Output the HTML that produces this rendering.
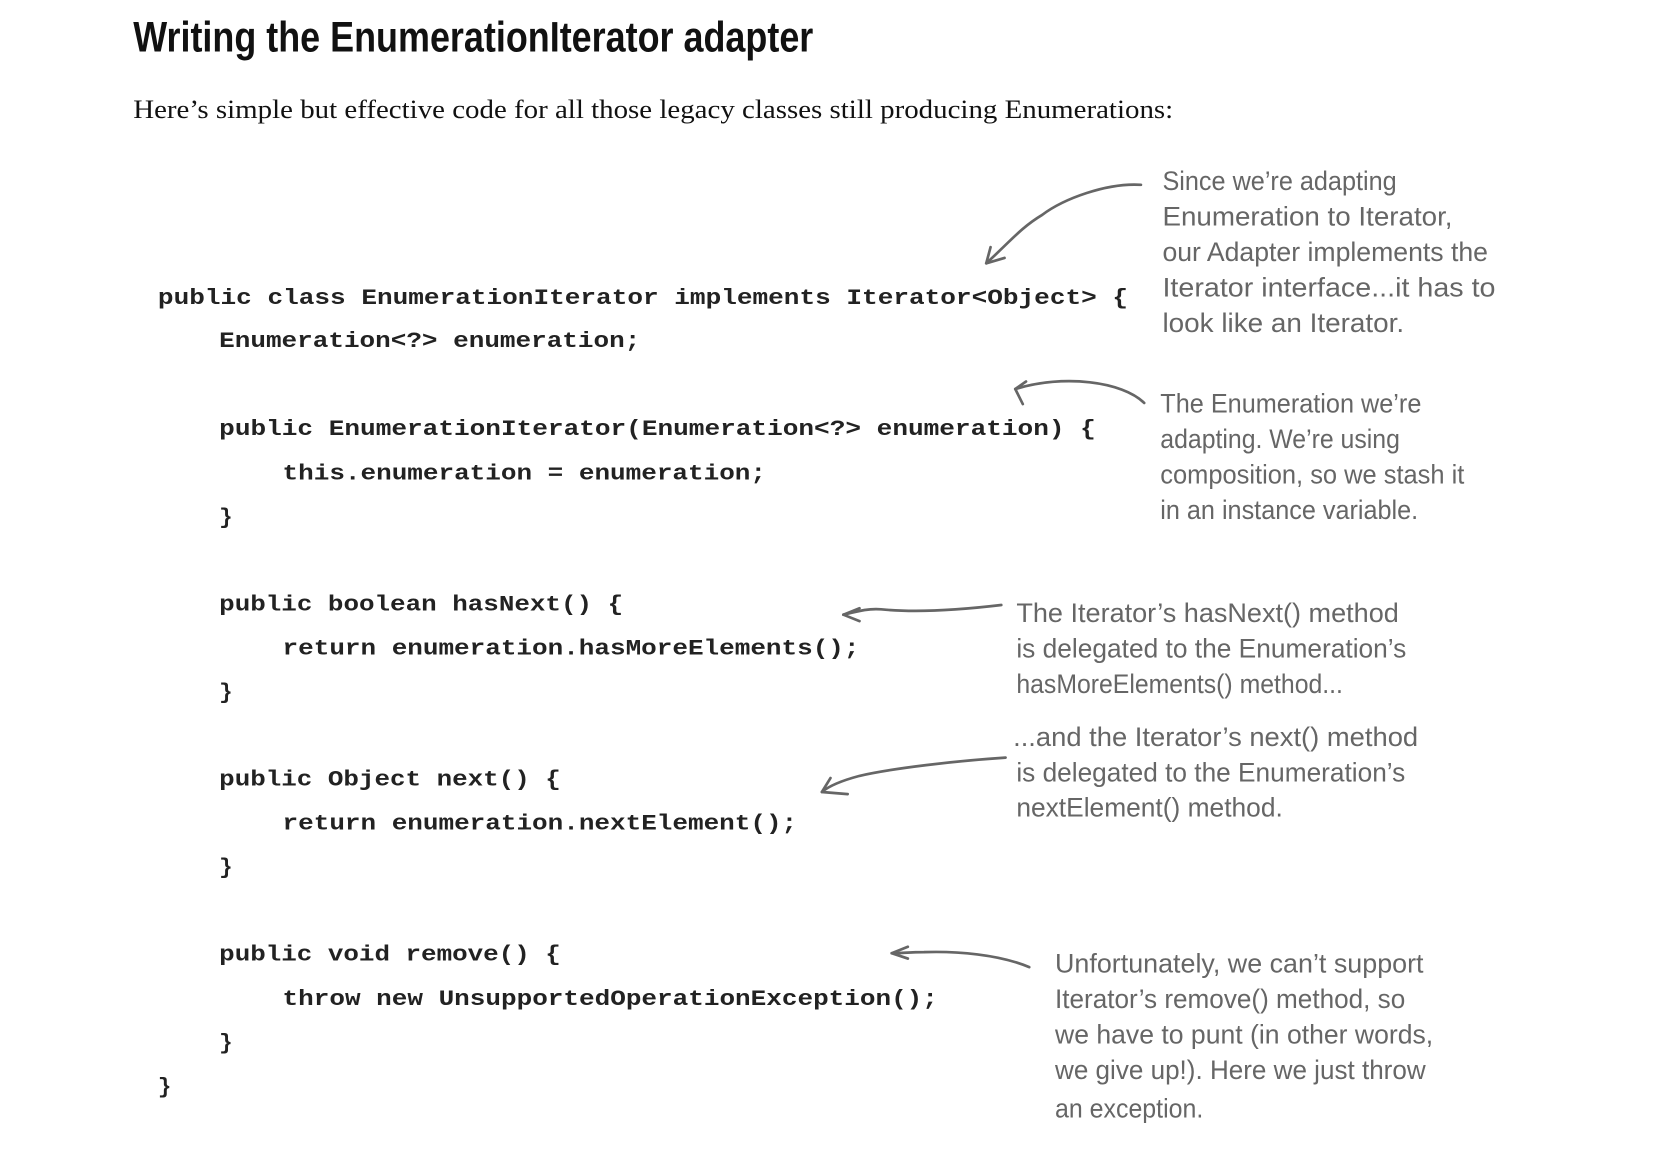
<!DOCTYPE html>
<html><head><meta charset="utf-8"><style>
html,body{margin:0;padding:0;background:#fff;}
svg{display:block;}
.code{font-family:"Liberation Mono",monospace;font-weight:bold;font-size:21px;fill:#222;}
.ann{font-family:"Liberation Sans Narrow","Liberation Sans",sans-serif;font-size:25px;fill:#666;}
</style></head><body>
<svg width="1676" height="1152" viewBox="0 0 1560 1072" preserveAspectRatio="none" xmlns="http://www.w3.org/2000/svg">
<text x="124" y="48" textLength="633" lengthAdjust="spacingAndGlyphs" style="font-family:'Liberation Sans',sans-serif;font-weight:bold;font-size:40px;fill:#111;">Writing the EnumerationIterator adapter</text>
<text x="124" y="110" textLength="968" lengthAdjust="spacingAndGlyphs" style="font-family:'Liberation Serif',serif;font-size:25px;fill:#111;">Here’s simple but effective code for all those legacy classes still producing Enumerations:</text>

<g class="code">
<text x="147" y="283" textLength="903" lengthAdjust="spacingAndGlyphs">public class EnumerationIterator implements Iterator&lt;Object&gt; {</text>
<text x="204" y="323" textLength="392" lengthAdjust="spacingAndGlyphs">Enumeration&lt;?&gt; enumeration;</text>
<text x="204" y="405" textLength="816" lengthAdjust="spacingAndGlyphs">public EnumerationIterator(Enumeration&lt;?&gt; enumeration) {</text>
<text x="263" y="446" textLength="450" lengthAdjust="spacingAndGlyphs">this.enumeration = enumeration;</text>
<text x="204" y="487">}</text>
<text x="204" y="568" textLength="376" lengthAdjust="spacingAndGlyphs">public boolean hasNext() {</text>
<text x="263" y="609" textLength="537" lengthAdjust="spacingAndGlyphs">return enumeration.hasMoreElements();</text>
<text x="204" y="650">}</text>
<text x="204" y="731" textLength="318" lengthAdjust="spacingAndGlyphs">public Object next() {</text>
<text x="263" y="772" textLength="479" lengthAdjust="spacingAndGlyphs">return enumeration.nextElement();</text>
<text x="204" y="813">}</text>
<text x="204" y="894" textLength="318" lengthAdjust="spacingAndGlyphs">public void remove() {</text>
<text x="263" y="935" textLength="610" lengthAdjust="spacingAndGlyphs">throw new UnsupportedOperationException();</text>
<text x="204" y="976">}</text>
<text x="147" y="1017">}</text>
</g>

<g class="ann">
<text x="1082" y="177" textLength="218" lengthAdjust="spacingAndGlyphs">Since we’re adapting</text>
<text x="1082" y="210" textLength="270" lengthAdjust="spacingAndGlyphs">Enumeration to Iterator,</text>
<text x="1082" y="243" textLength="303" lengthAdjust="spacingAndGlyphs">our Adapter implements the</text>
<text x="1082" y="276" textLength="310" lengthAdjust="spacingAndGlyphs">Iterator interface...it has to</text>
<text x="1082" y="309" textLength="225" lengthAdjust="spacingAndGlyphs">look like an Iterator.</text>

<text x="1080" y="384" textLength="243" lengthAdjust="spacingAndGlyphs">The Enumeration we’re</text>
<text x="1080" y="417" textLength="223" lengthAdjust="spacingAndGlyphs">adapting. We’re using</text>
<text x="1080" y="450" textLength="283" lengthAdjust="spacingAndGlyphs">composition, so we stash it</text>
<text x="1080" y="483" textLength="240" lengthAdjust="spacingAndGlyphs">in an instance variable.</text>

<text x="946" y="579" textLength="356" lengthAdjust="spacingAndGlyphs">The Iterator’s hasNext() method</text>
<text x="946" y="612" textLength="363" lengthAdjust="spacingAndGlyphs">is delegated to the Enumeration’s</text>
<text x="946" y="645" textLength="304" lengthAdjust="spacingAndGlyphs">hasMoreElements() method...</text>

<text x="943" y="694" textLength="377" lengthAdjust="spacingAndGlyphs">...and the Iterator’s next() method</text>
<text x="946" y="727" textLength="362" lengthAdjust="spacingAndGlyphs">is delegated to the Enumeration’s</text>
<text x="946" y="760" textLength="248" lengthAdjust="spacingAndGlyphs">nextElement() method.</text>

<text x="982" y="905" textLength="343" lengthAdjust="spacingAndGlyphs">Unfortunately, we can’t support</text>
<text x="982" y="938" textLength="326" lengthAdjust="spacingAndGlyphs">Iterator’s remove() method, so</text>
<text x="982" y="971" textLength="352" lengthAdjust="spacingAndGlyphs">we have to punt (in other words,</text>
<text x="982" y="1004" textLength="345" lengthAdjust="spacingAndGlyphs">we give up!). Here we just throw</text>
<text x="982" y="1040" textLength="138" lengthAdjust="spacingAndGlyphs">an exception.</text>
</g>

<g fill="none" stroke="#666" stroke-width="2.5" stroke-linecap="round" stroke-linejoin="round">
<path d="M1062,172 C1030,170 990,185 970,200 C950,212 940,225 918,245"/>
<path d="M918,245 L922,230 M918,245 L935,240"/>
<path d="M1065,375 C1045,355 990,348 945,362"/>
<path d="M945,362 L955,355 M945,362 L952,376"/>
<path d="M932,563 C890,568 850,570 820,567 C805,566 795,570 785,572"/>
<path d="M785,572 L800,566 M785,572 L800,578"/>
<path d="M936,705 C890,708 830,715 800,722 C785,726 772,731 765,737"/>
<path d="M765,737 L773,724 M765,737 L789,739"/>
<path d="M958,900 C930,888 890,885 860,886 C848,886 838,887 830,887"/>
<path d="M830,887 L845,881 M830,887 L845,892"/>
</g>
</svg>
</body></html>
